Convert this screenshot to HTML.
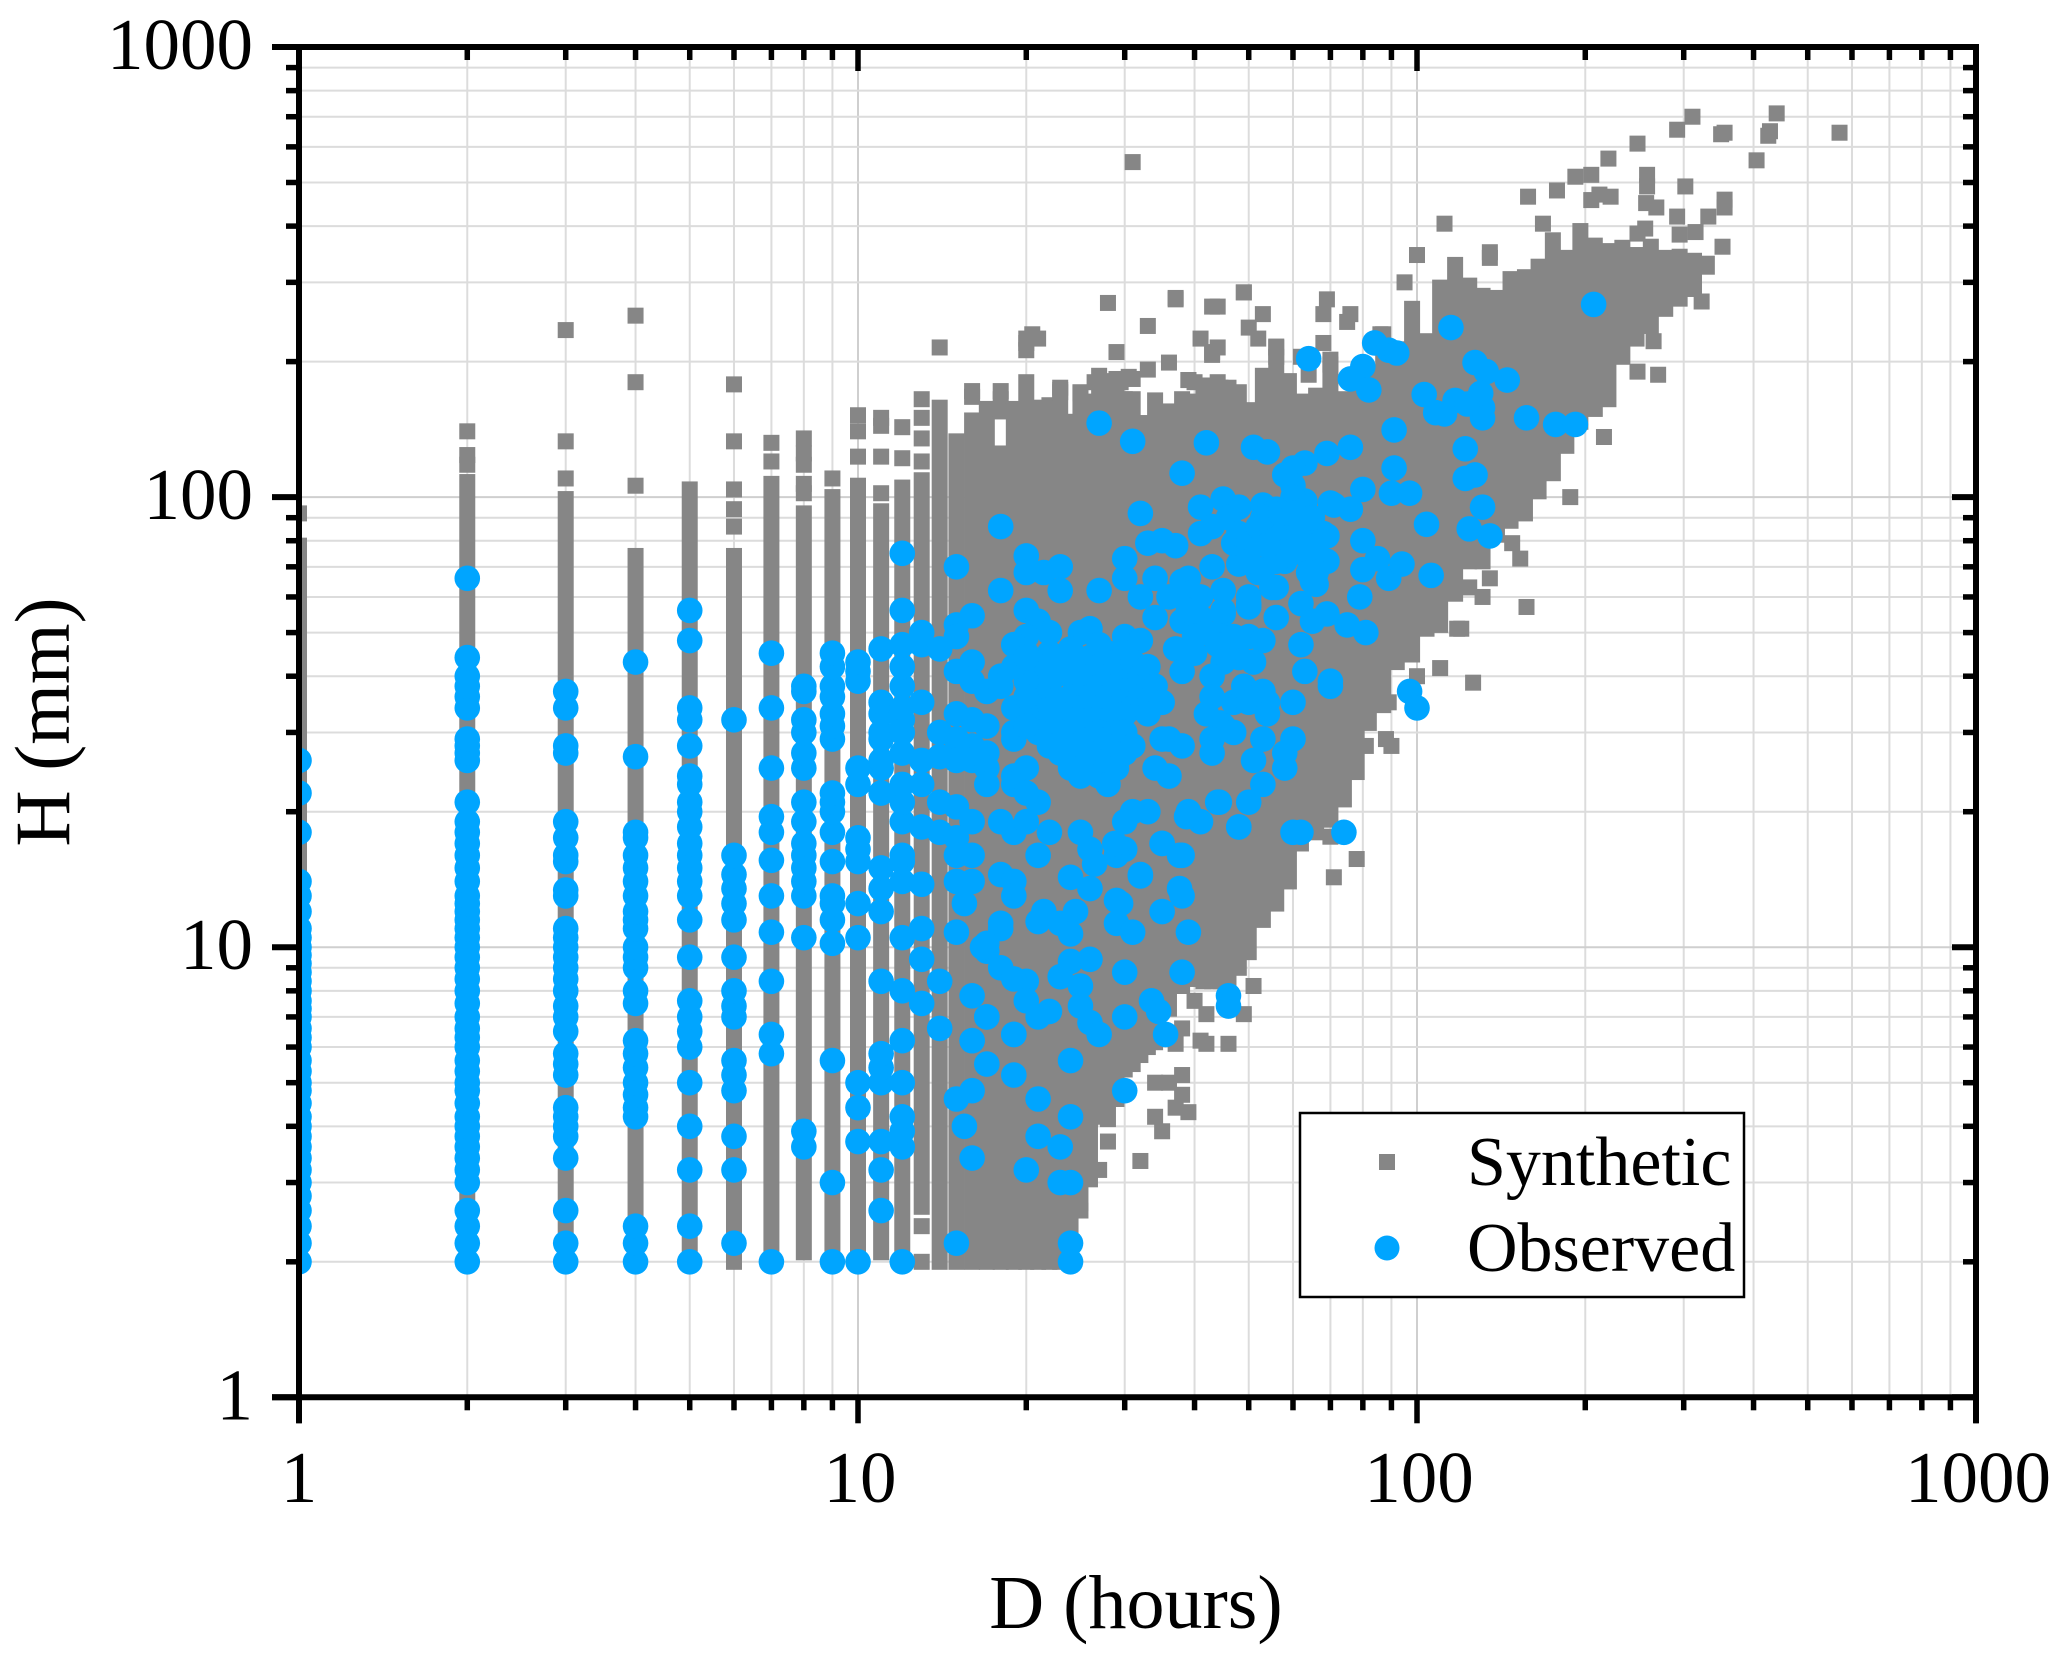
<!DOCTYPE html>
<html lang="en">
<head>
<meta charset="utf-8">
<title>H vs D scatter</title>
<style>
html,body{margin:0;padding:0;background:#fff;}
svg{display:block;}
text{font-family:"Liberation Serif","Times New Roman",serif;fill:#000;}
</style>
</head>
<body>
<svg id="chart" xmlns="http://www.w3.org/2000/svg" width="2067" height="1661" viewBox="0 0 2067 1661">
  <rect x="0" y="0" width="2067" height="1661" fill="#fff"/>
  <defs><clipPath id="plot-clip"><rect x="299" y="47" width="1677" height="1350"/></clipPath></defs>
  <g id="grid"></g>
  <g clip-path="url(#plot-clip)">
    <g id="synthetic"></g>
    <g id="observed"></g>
  </g>
  <g>
    <rect x="1300" y="1113" width="444" height="184" fill="#fff" stroke="#000" stroke-width="2.5"/>
    <rect x="1379" y="1154" width="16" height="16" fill="#868686"/>
    <text x="1467" y="1185" font-size="70">Synthetic</text>
    <circle cx="1387" cy="1248" r="12.5" fill="#00a5ff"/>
    <text x="1467" y="1271" font-size="70">Observed</text>
  </g>
  <g id="axes"></g>
  <text x="1136" y="1628" font-size="76" text-anchor="middle">D (hours)</text>
  <text transform="translate(69,722) rotate(-90)" font-size="78" text-anchor="middle">H (mm)</text>
</svg>
<script>
// Axis data
const xDecades = [1, 10, 100, 1000];
const yDecades = [1, 10, 100, 1000];
const minorMultiples = [2, 3, 4, 5, 6, 7, 8, 9];
const xTickLabels = ["1", "10", "100", "1000"];
const yTickLabels = ["1", "10", "100", "1000"];

// Synthetic: solid vertical extent of the cloud at each duration
const synBandD = [1,2,3,4,5,6,7,8,9,10,11,12,13,14,15,16,17,18,19,20,21,22,23,24,25,26,27,28,29,30,31,32,33,34,36,38,40,41.5,43,44.5,46,48,50,53,56,59,62,66,70,74,78,82,87,92,98,104,110,117,124,131,139,147,156,165,175,185,196,208,220,233,247,262,278,295,313,330];
const synBandHigh = [72,108,99,74,104,74,107,92,100,106,93,105,109,158,133,148,145,125,150,180,158,160,173,147,171,163,186,181,183,165,165,146,146,164,155,165,163,175,175,175,175,171,156,186,216,181,163,168,202,165,175,187,230,213,262,222,292,328,295,280,277,305,308,325,372,340,390,362,352,358,345,360,340,342,335,330];
const synBandLow = [2,2,2,2,2,2,2,2.1,2,2,2.1,2,2.65,2,2,2,2,2,2,2,2,2,2,2,2.7,3.05,4.2,4.15,4.6,5.35,5.5,5.76,6,6.15,7.3,8.2,8.5,8.4,8.4,8.4,8.5,9,9.75,11.5,12.5,14,17,18,19.2,21.3,24.5,31.5,34.5,43,44.7,51,52,61,72,72,82.5,88.6,92,103,113,130,147,157,165,205,225,240,262,276,290,325];

// Synthetic: isolated squares outside the solid cloud
const synScatter = [
[1,92],[1,78],[2,140],[2,124],[2,118],[3,235],[3,133],[3,110],[4,253],[4,180],[4,106],[6,178],[6,133],[6,104],[6,94],[6,86],[7,132],[7,120],[8,135],[8,125],[8,118],[8,107],[8,102],[9,110],[10,152],[10,140],[10,123],[11,150],[11,144],[11,123],[11,102],[12,143],[12,122],[13,165],[13,150],[13,135],[13,120],[13,2.4],[13,2],[14,215],
[31,555],[37,277],[28,270],[33,240],[43,265],[49,285],[20,225],[20.5,230],[20,212],[23,175],[29,210],[16,172],[17,157],[18,172],[18,165],[18,155],[19,157],[21,157],[23,171],[25,170],[26.5,180],[29.5,180],[33,192],[36,199],[40,180],[44,180],[45,167],[16,167],[20,220],[21,225],[43,210],[31,183],[30.5,185],[39,182],
[37,275],[44,265],[49,285],[53,255],[50,238],[52,225],[41,225],[44,215],[43,207],[39,182],[42,177],[56,215],[56,205],[69,275],[68,255],[76,255],[75,245],[68,220],[70,197],[64,187],[62,205],[86,230],[95,300],[100,345],[112,405],[135,350],[135,340],[158,465],[178,480],[168,405],
[311,700],[292,655],[350,640],[355,645],[440,712],[425,635],[428,650],[405,560],[570,645],[248,610],[220,565],[192,515],[205,520],[258,520],[258,490],[302,490],[205,457],[212,470],[222,465],[257,450],[268,440],[355,458],[355,440],[332,420],[292,420],[256,395],[248,385],[315,388],[295,383],[352,360],[323,272],[265,222],[248,190],[270,187],[216,136],[188,100],
[51,8.2],[49,7.1],[38,6.6],[37,6.1],[41,6.2],[42,6.1],[46,6.1],[38,5.2],[34,5],[36,5],[38,4.7],[37,4.4],[39,4.3],[34,4.2],[35,3.9],[28,3.7],[32,3.35],[27,3.2],[25,2.6],[42,7.1],[40,7.6],
[135,66],[131,60],[124,63],[120,51],[110,41.7],[126,38.7],[100,40],[89,35],[81,28],[88,29],[90,28],[78,15.7],[71,14.3],[70,17.6],[157,57],[148,79],[153,73],[118,51]
];

// Observed: values recorded at the discrete short durations
const obsDurations = [1,2,3,4,5,6,7,8,9,10,11,12,13,14];
const obsByDuration = [
[2,2.2,2.4,2.6,2.8,3,3.2,3.4,3.6,3.8,4,4.2,4.5,4.8,5,5.3,5.6,6,6.3,6.6,7,7.3,7.6,8,8.4,8.8,9.2,9.6,10,10.5,11,12,13,14,18,22,26],
[2,2.2,2.4,2.6,3,3.2,3.4,3.6,3.8,4,4.2,4.5,4.8,5,5.3,5.6,6,6.3,6.6,7,7.5,8,8.5,9,9.5,10,10.5,11,11.5,12,12.5,13,14,15,16,17,18,19,21,26,27,28,29,34,36,38,40,44,66],
[2,2.2,2.6,3.4,3.8,4,4.2,4.4,5.2,5.5,5.8,6.5,7,7.4,8,8.5,9,9.5,10,10.5,11,13,13.4,15.5,16,17.5,19,27,28,34,37],
[2,2.2,2.4,4.2,4.4,4.7,5,5.4,5.8,6.2,7.5,8,9,9.5,10,11,11.5,12,13,14,15,16,17.5,18,26.5,43],
[2,2.4,3.2,4,5,6,6.5,7,7.6,9.5,11.5,13,14,15,16,17,18.5,20,21,23,24,28,32,34,48,56],
[2.2,3.2,3.8,4.8,5.2,5.6,7,7.4,8,9.5,11.5,12.5,13.5,14.5,16,32],
[2,5.8,6.4,8.4,10.8,13,15.6,18,19.5,25,34,45],
[3.6,3.9,10.5,13,14,15,16,17,19,21,25,27,30,32,37,38],
[2,3,5.6,10.2,11.5,12.5,13,15.5,18,20,21,22,29,31,33,36,38,42,45],
[2,3.7,4.4,5,10.5,12.5,15.5,16.5,17.5,23,25,39,41,43],
[2.6,3.2,3.7,5,5.4,5.8,8.4,12,13.5,15,22,25,26,29,30,33,35,46],
[2,3.6,3.9,4.2,5,6.2,8,10.5,14,15.5,16,19,21,23,27,30,32,34,38,42,47,56,75],
[7.5,9.4,11,13.8,18.5,23,26,35,47,50],
[6.6,8.4,18,21,26.5,30,46]
];

// Observed: event pairs [duration, depth] for longer durations
const obsPairs = [
[115,238],[207,268],[64,203],[84,220],[89,212],[92,209],[80,195],[76,183],[82,173],[127,199],[133,190],[145,182],[103,169],[117,164],[108,154],[112,153],[130,170],[131,158],[131,150],[123,161],[157,150],[177,145],[192,145],[91,141],[122,128],[122,110],[127,112],[91,116],[42,132],[51,129],[54,126],[69,125],[76,129],[63,119],[60,116],[58,112],[38,113],[80,104],[90,102],[97,102],[45,99],
[27,146],[31,133],[18,86],[32,92],[41,95],[48,95],[53,96],[60,97],[63,98],[41,83],[46,90],[48,79],[54,88],[60,86],[68,83],[63,90],[70,97],[104,87],[124,85],[135,82],[80,80],[85,73],[80,69],[89,66],[94,71],[106,67],[79,60],[33,79],[35,80],[37,78],[30,73],[30,66],[34,66],[39,66],[43,70],[48,71],[53,69],[58,72],[65,73],[65,65],[56,63],[50,60],[45,62],[40,60],[36,60],[32,60],[62,58],[69,55],[65,53],[75,52],[81,50],[56,54],[50,57],[45,55],[41,54],[38,53],[34,54],[62,47],[63,41],[70,38],[97,37],[100,34],
[60,106],[60,100],[56,94],[63,94],[71,96],[76,94],[43,86],[47,79],[48,83],[50,80],[52,86],[55,86],[58,89],[62,88],[65,85],[69,82],[57,82],[63,80],[62,85],[58,74],[56,72],[69,72],[64,73],[66,64],[66,68],[52,68],[55,63],[50,58],[45,56],[41,60],[38,65],[39,61],[131,95],[44.5,49],[48,44],[44.5,31.5],[70,39],[39,56],[44,49],[22,42.6],[22,38.5],[22,36],[47,35],[54,35],[49,36],[44,47],[40,49],[53,90],[57,92],[60,92],[65,90],[54,78],[50,72],[60,80],[66,78],[60,76],[64,68],
[42,50],[47,49],[50,49],[53,48],[37,46],[40,45],[45,43],[51,43],[38,41],[43,40],[49,38],[53,37],[60,35],[50,35],[43,36],[42,33],[54,33],[45,31],[47,30],[53,29],[60,29],[43,29],[43,27],[51,26],[58,27],[58,25],[53,23],[50,21],[48,18.5],[60,18],[74,18],[44,21],[39,20],[41,19],[36,29],[38,28],[31,28],[35,29],[34,25],[36,24],[33,20],[31,20],[30,19],[35,17],[38,16],[30,16.5],[29,16],[26,16.5],[25,18],[32,14.5],[38,13],[24,14.3],[26,13.5],[29,12.7],
[25,50],[26,51],[30,49],[32,48],[22,45],[23,43],[24,46],[24,40],[25,42],[25,38],[26,44],[26,40],[26,36],[27,47],[27,42],[27,38],[27,34],[28,45],[28,40],[28,36],[28,32],[29,43],[29,38],[29,34],[30,45],[30,41],[30,37],[30,33],[31,43],[31,38],[31,34],[32,40],[32,36],[33,42],[33,37],[33,33],[34,38],[35,35],[24,36],[25,34],[25,30],[26,32],[26,29],[26,26],[27,30],[27,27],[27,24],[28,29],[28,26],[28,23],[29,28],[29,25],[30,30],[30,27],[31,28],[25,27],[25,24],[24,32],[24,28],[24,25],[23,33],[23,30],[23,27],[22,36],[22,32],[22,28],[21,34],[21,30],[21,38],[21,42],[20,45],[20,39],[20,33],[19,47],[19,42],[19,34],[19,29],
[18,62],[20,74],[20,68],[21.5,68],[23,70],[23,62],[27,62],[20,56],[21,53],[22,50],[20,49],[19,47],[20,44],[15,70],[16,54.5],[15,52],[15,49],[16,43],[15,41],[16,39],[17,37],[18,40],[18,38],[20,36],[15,33],[16,32],[17,31],[15,29],[16,28],[17,27],[19,30],[20,31],[15,26],[16,26],[17,25],[19,24],[20,25],[15,20.5],[16,19],[15,17.5],[16,16],[15,16],[18,19],[19,18],[21,21],[20,19],[22,18],[21,16],[17,23],[19,23],[20,22],[15,14],[16,14],[18,14.5],[19,14],
[15,10.8],[18,11],[17,10.2],[17,9.8],[21,11.4],[23,11.3],[24,10.7],[29,11.3],[31,10.8],[39,10.8],[24,9.3],[26,9.4],[23,8.6],[25,8.2],[25,7.4],[26,6.8],[27,6.4],[30,8.8],[38,8.8],[20,8.4],[20,7.6],[21,7],[22,7.2],[16,7.8],[17,7],[19,6.4],[16,6.2],[30,7],[33.5,7.6],[34.5,7.2],[35.5,6.4],[24,5.6],[19,5.2],[30,4.8],[21,4.6],[24,4.2],[21,3.8],[23,3.6],[20,3.2],[23,3],[24,3],[16,3.4],[15,4.6],[16,4.8],[46,7.8],[46,7.4],[15,2.2],[24,2.2],[24,2],
[15.5,12.5],[16.7,10],[18,11.3],[19,13],[21.5,12],[24.5,12],[29.5,12.5],[35,12],[37.6,13.5],[32,14.4],[26.5,15.3],[28.8,17],[35,17],[37.6,16],[38.7,19.5],[44.3,21],[48,18.5],[62,18],[15.5,4],[19,6.4],[17,7],[16,6.2],[17,5.5],[18,9],[19,8.5]
];

// Axis functions
const plotLeft = 299, plotRight = 1976, plotTop = 47, plotBottom = 1397.3;
const xScale = v => plotLeft + (plotRight - plotLeft) * Math.log10(v) / 3;
const yScale = v => plotBottom - (plotBottom - plotTop) * Math.log10(v) / 3;
const NS = "http://www.w3.org/2000/svg";

function add(parent, tag, attrs) {
  const el = document.createElementNS(NS, tag);
  for (const k in attrs) el.setAttribute(k, attrs[k]);
  parent.appendChild(el);
  return el;
}

const gridG = document.getElementById('grid');
const axesG = document.getElementById('axes');
const synG = document.getElementById('synthetic');
const obsG = document.getElementById('observed');
const GRID = "#dcdcdc";
const TICK_W = 5.5;

// Gridlines and ticks
xDecades.forEach((dec, i) => {
  const x = xScale(dec);
  if (i > 0 && i < xDecades.length - 1) {
    const g = add(gridG, 'line', {x1: x, x2: x, y1: plotTop, y2: plotBottom, stroke: "#cfcfcf", 'stroke-width': 2});
    
    
  }
  const tb = add(axesG, 'line', {x1: x, x2: x, y1: plotBottom, y2: plotBottom + 26, stroke: "#000", 'stroke-width': TICK_W});
  
  
  const tt = add(axesG, 'line', {x1: x, x2: x, y1: plotTop, y2: plotTop + 24, stroke: "#000", 'stroke-width': TICK_W});
  
  
  const lab = add(axesG, 'text', {x: x + (i === 0 ? 0 : 2), y: 1502, 'font-size': 73, 'text-anchor': 'middle'});
  lab.textContent = xTickLabels[i];
  
  
  if (i === xDecades.length - 1) return;
  minorMultiples.forEach(m => {
    const xm = xScale(dec * m);
    const g = add(gridG, 'line', {x1: xm, x2: xm, y1: plotTop, y2: plotBottom, stroke: GRID, 'stroke-width': 2});
    
    
    const b = add(axesG, 'line', {x1: xm, x2: xm, y1: plotBottom, y2: plotBottom + 13, stroke: "#000", 'stroke-width': TICK_W});
    
    
    const t = add(axesG, 'line', {x1: xm, x2: xm, y1: plotTop, y2: plotTop + 13, stroke: "#000", 'stroke-width': TICK_W});
    
    
  });
});

yDecades.forEach((dec, i) => {
  const y = yScale(dec);
  if (i > 0 && i < yDecades.length - 1) {
    const g = add(gridG, 'line', {x1: plotLeft, x2: plotRight, y1: y, y2: y, stroke: "#cfcfcf", 'stroke-width': 2});
    
    
  }
  const tl = add(axesG, 'line', {x1: plotLeft - 27, x2: plotLeft, y1: y, y2: y, stroke: "#000", 'stroke-width': TICK_W + 0.5});
  
  
  const tr = add(axesG, 'line', {x1: plotRight - 24, x2: plotRight, y1: y, y2: y, stroke: "#000", 'stroke-width': TICK_W + 0.5});
  
  
  const lab = add(axesG, 'text', {x: 253, y: y + 22, 'font-size': 73, 'text-anchor': 'end'});
  lab.textContent = yTickLabels[i];
  
  
  if (i === yDecades.length - 1) return;
  minorMultiples.forEach(m => {
    const ym = yScale(dec * m);
    const g = add(gridG, 'line', {x1: plotLeft, x2: plotRight, y1: ym, y2: ym, stroke: GRID, 'stroke-width': 2});
    
    
    const l = add(axesG, 'line', {x1: plotLeft - 13, x2: plotLeft, y1: ym, y2: ym, stroke: "#000", 'stroke-width': TICK_W});
    
    
    const r = add(axesG, 'line', {x1: plotRight - 13, x2: plotRight, y1: ym, y2: ym, stroke: "#000", 'stroke-width': TICK_W});
    
    
  });
});

// Frame
const frameLeft = add(axesG, 'line', {x1: plotLeft, x2: plotLeft, y1: plotTop - 3, y2: plotBottom + 26, stroke: "#000", 'stroke-width': 6});


const frameRight = add(axesG, 'line', {x1: plotRight, x2: plotRight, y1: plotTop - 3, y2: plotBottom + 26, stroke: "#000", 'stroke-width': 6});


const frameTop = add(axesG, 'line', {x1: plotLeft - 27, x2: plotRight + 3, y1: plotTop, y2: plotTop, stroke: "#000", 'stroke-width': 6});


const frameBottom = add(axesG, 'line', {x1: plotLeft - 27, x2: plotRight + 3, y1: plotBottom, y2: plotBottom, stroke: "#000", 'stroke-width': 6});



// Synthetic series
const SQ = 16, SYN = "#868686";
synBandD.forEach((d, i) => {
  const top = yScale(synBandHigh[i]) - SQ / 2;
  const bottom = yScale(synBandLow[i]) + SQ / 2;
  const r = add(synG, 'rect', {x: xScale(d) - SQ / 2, y: top, width: SQ, height: bottom - top, fill: SYN});
  
  
});
synScatter.forEach(p => {
  const r = add(synG, 'rect', {x: xScale(p[0]) - SQ / 2, y: yScale(p[1]) - SQ / 2, width: SQ, height: SQ, fill: SYN});
  
  
});

// Observed series
const OBS_R = 12.8, OBS = "#00a5ff";
obsDurations.forEach((d, i) => {
  obsByDuration[i].forEach(h => {
    const c = add(obsG, 'circle', {cx: xScale(d), cy: yScale(h), r: OBS_R, fill: OBS});
    
    
  });
});
obsPairs.forEach(p => {
  const c = add(obsG, 'circle', {cx: xScale(p[0]), cy: yScale(p[1]), r: OBS_R, fill: OBS});
  
  
});
</script>
</body>
</html>
